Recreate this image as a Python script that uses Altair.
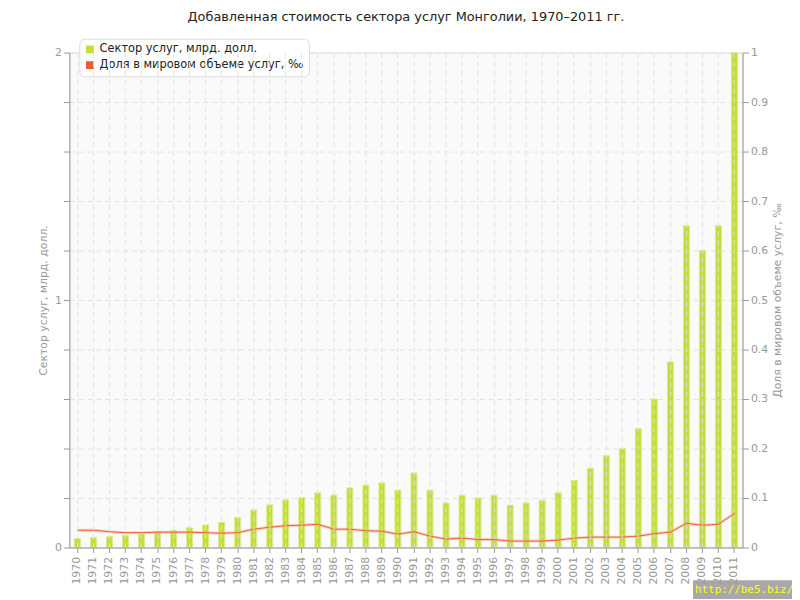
import altair as alt
import pandas as pd

years = [str(y) for y in range(1970, 2012)]
services = [0.036, 0.040, 0.044, 0.049, 0.055, 0.064, 0.069, 0.080, 0.091, 0.101,
            0.121, 0.152, 0.172, 0.192, 0.201, 0.221, 0.212, 0.241, 0.252, 0.261,
            0.232, 0.301, 0.232, 0.180, 0.211, 0.200, 0.211, 0.171, 0.180, 0.191,
            0.221, 0.271, 0.320, 0.371, 0.399, 0.480, 0.600, 0.750, 1.300, 1.200,
            1.300, 2.000]
share = [0.035, 0.035, 0.032, 0.030, 0.030, 0.031, 0.031, 0.031, 0.030, 0.029,
         0.030, 0.037, 0.041, 0.044, 0.045, 0.047, 0.037, 0.037, 0.034, 0.033,
         0.027, 0.032, 0.023, 0.017, 0.019, 0.016, 0.016, 0.013, 0.013, 0.013,
         0.015, 0.019, 0.021, 0.021, 0.021, 0.023, 0.028, 0.031, 0.049, 0.045,
         0.047, 0.069]
series_names = ["Сектор услуг, млрд. долл.", "Доля в мировом объеме услуг, ‰"]
series_colors = ["#c3de3a", "#e8612c"]
left_ticks = [0, 0.2, 0.4, 0.6, 0.8, 1, 1.2, 1.4, 1.6, 1.8, 2]
right_ticks = [0, 0.1, 0.2, 0.3, 0.4, 0.5, 0.6, 0.7, 0.8, 0.9, 1]
watermark = ["http://be5.biz/"]

df = pd.DataFrame({"year": years, "services": services, "share": share})
df["s1"] = series_names[0]
df["s2"] = series_names[1]

FONT = "DejaVu Sans"
GRAY = "#999999"

color_scale = alt.Scale(domain=series_names, range=series_colors)

xenc = alt.X("year:O", title=None,
             scale=alt.Scale(paddingInner=0, paddingOuter=0),
             axis=alt.Axis(labelAngle=270, labelColor=GRAY, labelFontSize=11,
                           labelFont=FONT, tickColor=GRAY, domainColor=GRAY,
                           tickSize=5, labelPadding=4,
                           grid=True, gridColor="#e2e2e2", gridDash=[5, 4],
                           zindex=1))

bars = alt.Chart(df).mark_bar(size=6, stroke="#d8eb8c", strokeWidth=1).encode(
    x=xenc,
    y=alt.Y("services:Q", title="Сектор услуг, млрд. долл.",
            scale=alt.Scale(domain=[0, 2], nice=False),
            axis=alt.Axis(values=left_ticks, format="~g",
                          labelExpr="(datum.value == 0 || datum.value == 1 || datum.value == 2) ? datum.label : ''",
                          labelColor=GRAY, labelFontSize=11, labelFont=FONT,
                          tickColor=GRAY, domainColor=GRAY, tickSize=6,
                          titleColor=GRAY, titleFont=FONT, titleFontSize=11,
                          titleFontWeight="normal", titlePadding=6,
                          grid=True, gridColor="#e2e2e2", gridDash=[5, 4])),
    color=alt.Color("s1:N", scale=color_scale, title=None,
                    legend=alt.Legend(orient="none", legendX=10, legendY=-14,
                                      symbolType="square", symbolSize=40,
                                      labelFont=FONT, labelFontSize=11.5,
                                      labelLimit=400,
                                      labelColor="#222", fillColor="white",
                                      strokeColor="#dddddd", cornerRadius=5,
                                      padding=5, rowPadding=3)),
)

right_axis = alt.Axis(orient="right", values=right_ticks, format="~g",
                      labelColor=GRAY, labelFontSize=11, labelFont=FONT,
                      tickColor=GRAY, domainColor=GRAY, tickSize=6,
                      titleColor=GRAY, titleFont=FONT, titleFontSize=11,
                      titleFontWeight="normal", titleAngle=270,
                      titleBaseline="top", titlePadding=4, grid=False)
share_title = "Доля в мировом объеме услуг, ‰"

halo = alt.Chart(df).mark_line(color="#f3b7a0", strokeWidth=3, opacity=0.55).encode(
    x=xenc,
    y=alt.Y("share:Q", title=share_title,
            scale=alt.Scale(domain=[0, 1], nice=False), axis=right_axis),
)

line = alt.Chart(df).mark_line(strokeWidth=1).encode(
    x=xenc,
    y=alt.Y("share:Q", title=share_title,
            scale=alt.Scale(domain=[0, 1], nice=False), axis=right_axis),
    color=alt.Color("s2:N", scale=color_scale, title=None),
)

wm_df = pd.DataFrame({"t": watermark})
wm_box = alt.Chart(wm_df).mark_rect(color="#a8a8a8").encode(
    x=alt.value(630), x2=alt.value(740), y=alt.value(533), y2=alt.value(552))
wm_text = alt.Chart(wm_df).mark_text(color="#ffff00", font="DejaVu Sans Mono",
                                     fontSize=11, align="left", baseline="alphabetic").encode(
    x=alt.value(632), y=alt.value(546), text="t:N")

chart = alt.layer(bars, alt.layer(halo, line), wm_box, wm_text).resolve_scale(
    y="independent"
).properties(
    width=680, height=500,
    padding={"left": 62, "top": 42, "right": 50, "bottom": 50},
    autosize=alt.AutoSizeParams(type="none"),
    title=alt.TitleParams("Добавленная стоимость сектора услуг Монголии, 1970–2011 гг.",
                          font=FONT, fontSize=13, fontWeight="normal",
                          color="#222222", anchor="middle", offset=14),
).configure_view(fill="#fafafa", stroke="#dddddd")

chart.save("out.html", embed_options={"renderer": "svg", "actions": False})
